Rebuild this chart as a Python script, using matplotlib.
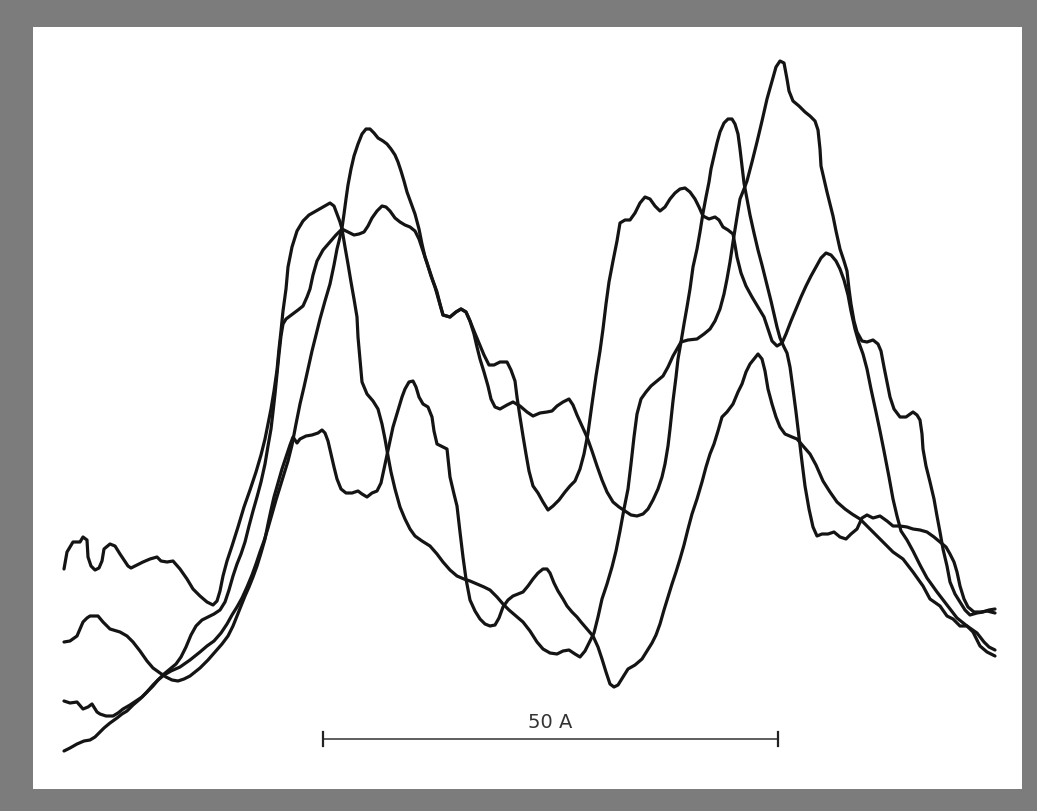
# Density traces (four overlaid scans) with 50 A scale bar

# Importing the necessary libraries.
import numpy as np
import matplotlib
matplotlib.use("Agg")
import matplotlib.pyplot as plt

# Trace readings: (position, deflection).
# Deflection is measured downward from the top of the paper, so the y axis is inverted.
trace_a = [
    (64, 570), (67, 553), (73, 543), (80, 543), (83, 538), (87, 541), (88, 558), (91, 567), (95, 571),
    (99, 569), (102, 562), (104, 550), (110, 545), (115, 547), (120, 555), (124, 561), (128, 567),
    (131, 569), (137, 566), (143, 563), (150, 560), (157, 558), (161, 562), (167, 563), (173, 562),
    (180, 570), (187, 580), (193, 590), (200, 597), (207, 603), (213, 606), (217, 602), (220, 592),
    (223, 577), (227, 562), (232, 547), (238, 528), (244, 508), (250, 491), (256, 473), (261, 456),
    (265, 440), (268, 425), (271, 410), (274, 392), (277, 371), (279, 350), (281, 332), (283, 312),
    (286, 290), (288, 268), (292, 248), (297, 232), (303, 222), (309, 216), (316, 212), (323, 208),
    (330, 204), (334, 207), (337, 215), (340, 223), (342, 230), (345, 248), (348, 265), (351, 283),
    (354, 300), (357, 318), (358, 338), (360, 360), (362, 383), (367, 395), (373, 402), (378, 410),
    (382, 425), (385, 440), (388, 457), (391, 473), (395, 490), (400, 508), (405, 520), (410, 530),
    (415, 537), (422, 542), (430, 547), (437, 555), (443, 563), (450, 571), (457, 577), (464, 580),
    (470, 582), (477, 585), (484, 588), (490, 591), (497, 598), (503, 605), (509, 611), (516, 617),
    (523, 623), (530, 632), (537, 643), (543, 650), (550, 654), (557, 655), (563, 652), (569, 651),
    (575, 655), (580, 658), (585, 652), (590, 642), (594, 634), (598, 618), (602, 600), (607, 585),
    (612, 568), (616, 552), (620, 532), (624, 510), (628, 490), (631, 465), (634, 438), (637, 415),
    (641, 400), (646, 393), (651, 387), (657, 382), (663, 377), (668, 368), (673, 357), (677, 350),
    (681, 343), (688, 341), (697, 340), (704, 335), (710, 330), (715, 322), (720, 310), (724, 295),
    (727, 280), (730, 263), (733, 243), (737, 218), (740, 200), (744, 190), (747, 182), (752, 163),
    (757, 143), (762, 122), (767, 100), (772, 82), (776, 68), (780, 62), (784, 64), (787, 80),
    (789, 92), (793, 102), (799, 107), (805, 113), (810, 117), (815, 122), (818, 131), (820, 150),
    (821, 167), (824, 180), (827, 193), (830, 205), (833, 217), (836, 232), (840, 250), (844, 262),
    (847, 272), (849, 290), (851, 305), (854, 322), (857, 333), (862, 342), (867, 343), (873, 341),
    (878, 345), (881, 352), (884, 368), (887, 383), (890, 398), (894, 410), (900, 418), (906, 418),
    (913, 413), (917, 416), (920, 421), (922, 435), (923, 450), (926, 467), (930, 483), (934, 500),
    (937, 517), (940, 533), (943, 550), (947, 567), (950, 583), (955, 595), (960, 603), (965, 611),
    (970, 616), (977, 614), (983, 613), (989, 611), (995, 610),
]

trace_b = [
    (64, 702), (70, 704), (77, 703), (83, 710), (88, 708), (92, 705), (97, 713), (100, 715), (106, 717),
    (113, 717), (118, 714), (123, 710), (130, 706), (136, 702), (142, 698), (148, 692), (153, 687),
    (158, 681), (164, 675), (170, 670), (176, 665), (181, 658), (186, 648), (191, 636), (196, 627),
    (202, 621), (208, 618), (214, 615), (220, 611), (225, 603), (229, 591), (233, 577), (237, 565),
    (241, 555), (245, 543), (249, 527), (253, 512), (257, 498), (261, 483), (265, 465), (268, 447),
    (271, 430), (273, 413), (275, 395), (277, 375), (279, 355), (281, 337), (283, 325), (286, 320),
    (290, 317), (294, 314), (298, 311), (303, 307), (307, 298), (310, 290), (313, 276), (317, 262),
    (323, 251), (330, 243), (336, 236), (342, 230), (348, 233), (354, 236), (359, 235), (364, 233),
    (368, 227), (372, 219), (377, 212), (382, 207), (386, 208), (390, 212), (395, 219), (400, 223),
    (405, 226), (410, 228), (415, 232), (419, 240), (423, 252), (427, 264), (431, 277), (435, 288),
    (439, 302), (443, 316), (450, 318), (456, 313), (461, 310), (466, 313), (470, 322), (474, 335),
    (477, 348), (480, 360), (484, 373), (488, 387), (491, 400), (495, 408), (500, 410), (507, 406),
    (513, 403), (520, 407), (527, 413), (533, 417), (540, 414), (547, 413), (552, 412), (557, 407),
    (563, 403), (569, 400), (573, 406), (577, 416), (582, 427), (587, 438), (592, 452), (597, 467),
    (602, 481), (607, 493), (613, 503), (619, 508), (625, 512), (631, 516), (637, 517), (643, 515),
    (648, 510), (653, 501), (658, 490), (662, 478), (665, 465), (668, 447), (670, 430), (673, 402),
    (676, 378), (678, 360), (681, 343), (684, 325), (687, 308), (690, 290), (693, 268), (697, 250),
    (700, 233), (703, 214), (706, 198), (709, 183), (711, 170), (714, 157), (717, 144), (720, 133),
    (724, 124), (728, 120), (732, 120), (735, 125), (738, 135), (740, 150), (742, 167), (744, 184),
    (747, 200), (750, 216), (754, 234), (758, 251), (762, 266), (765, 278), (768, 290), (771, 302),
    (774, 315), (777, 328), (780, 339), (784, 348), (787, 354), (790, 368), (793, 390), (796, 413),
    (799, 438), (802, 463), (805, 487), (809, 510), (813, 528), (817, 537), (822, 535), (828, 535),
    (834, 533), (840, 538), (846, 540), (851, 535), (857, 530), (862, 519), (867, 516), (873, 519),
    (880, 517), (887, 522), (893, 527), (900, 527), (907, 528), (913, 530), (920, 531), (927, 533),
    (934, 538), (940, 543), (946, 548), (950, 555), (954, 563), (957, 573), (960, 587), (964, 600),
    (968, 608), (974, 613), (981, 613), (987, 612), (995, 614),
]

trace_c = [
    (64, 752), (70, 749), (77, 745), (84, 742), (90, 741), (95, 738), (100, 733), (104, 729), (110, 724),
    (117, 719), (122, 715), (127, 712), (133, 706), (140, 700), (146, 694), (153, 686), (158, 681),
    (164, 676), (171, 672), (180, 668), (190, 661), (200, 653), (207, 647), (214, 642), (221, 634),
    (227, 625), (232, 616), (237, 608), (242, 599), (247, 588), (252, 576), (256, 565), (260, 553),
    (264, 542), (268, 529), (272, 515), (276, 501), (280, 488), (284, 475), (288, 462), (292, 446),
    (296, 425), (300, 405), (304, 388), (308, 370), (312, 352), (316, 336), (320, 320), (325, 302),
    (330, 285), (334, 266), (337, 250), (340, 238), (342, 229), (344, 215), (346, 200), (348, 186),
    (351, 170), (354, 157), (358, 145), (362, 135), (366, 130), (370, 130), (374, 134), (378, 139),
    (383, 142), (387, 145), (391, 150), (395, 156), (398, 163), (401, 172), (404, 182), (407, 193),
    (411, 204), (415, 215), (419, 230), (422, 245), (425, 258), (429, 270), (433, 282), (437, 293),
    (440, 305), (443, 316), (450, 318), (456, 313), (461, 310), (466, 313), (470, 322), (474, 332),
    (479, 344), (484, 356), (489, 366), (494, 366), (500, 363), (507, 363), (511, 371), (515, 382),
    (517, 398), (520, 418), (523, 437), (526, 455), (529, 472), (533, 487), (538, 494), (543, 503),
    (548, 511), (553, 507), (559, 501), (565, 493), (570, 487), (575, 482), (580, 470), (584, 455),
    (588, 434), (592, 405), (596, 377), (600, 352), (603, 330), (606, 305), (609, 283), (613, 262),
    (617, 242), (620, 224), (625, 221), (630, 221), (635, 214), (640, 204), (645, 198), (650, 200),
    (655, 207), (660, 212), (665, 208), (670, 200), (675, 194), (680, 190), (685, 189), (690, 193),
    (695, 200), (699, 208), (703, 217), (709, 220), (715, 218), (719, 221), (723, 228), (728, 231),
    (733, 235), (735, 246), (737, 258), (741, 274), (746, 287), (752, 298), (758, 308), (764, 318),
    (768, 330), (772, 342), (777, 347), (782, 344), (786, 335), (791, 322), (796, 310), (801, 298),
    (806, 287), (811, 277), (816, 268), (821, 259), (826, 254), (831, 256), (836, 262), (840, 270),
    (844, 281), (848, 296), (851, 312), (855, 330), (859, 344), (863, 355), (867, 370), (871, 390),
    (876, 413), (880, 432), (884, 452), (889, 478), (893, 500), (897, 517), (901, 532), (907, 541),
    (913, 552), (920, 566), (927, 579), (937, 593), (947, 606), (957, 619), (967, 627), (977, 634),
    (984, 643), (989, 648), (995, 651),
]

trace_d = [
    (64, 643), (70, 642), (77, 637), (80, 630), (83, 623), (87, 619), (90, 617), (98, 617), (103, 623),
    (110, 630), (120, 633), (127, 637), (133, 643), (140, 652), (147, 662), (153, 669), (160, 674),
    (166, 678), (172, 681), (178, 682), (184, 680), (190, 677), (200, 669), (208, 661), (215, 653),
    (222, 645), (228, 637), (233, 627), (237, 617), (241, 607), (245, 597), (249, 588), (253, 578),
    (257, 567), (261, 554), (265, 540), (268, 525), (271, 511), (274, 498), (278, 484), (282, 470),
    (286, 458), (290, 446), (293, 438), (297, 444), (300, 440), (306, 437), (312, 436), (318, 434),
    (322, 431), (325, 434), (328, 442), (331, 455), (334, 468), (337, 480), (341, 490), (346, 494),
    (352, 494), (358, 492), (362, 495), (367, 498), (372, 494), (377, 492), (381, 484), (384, 470),
    (387, 456), (390, 442), (393, 428), (396, 418), (399, 408), (402, 398), (405, 390), (409, 383),
    (413, 382), (416, 388), (419, 398), (423, 405), (428, 408), (432, 418), (434, 432), (437, 445),
    (443, 448), (447, 450), (450, 478), (454, 495), (457, 507), (460, 533), (463, 558), (466, 580),
    (470, 601), (475, 612), (480, 620), (485, 625), (490, 627), (495, 626), (499, 619), (503, 608),
    (508, 601), (513, 597), (518, 595), (523, 593), (528, 587), (533, 580), (538, 574), (543, 570),
    (547, 570), (550, 574), (554, 584), (558, 592), (563, 600), (567, 607), (572, 613), (577, 618),
    (581, 623), (587, 630), (593, 637), (598, 648), (602, 660), (606, 673), (610, 685), (614, 688),
    (618, 686), (623, 678), (628, 670), (635, 666), (642, 660), (647, 652), (652, 644), (656, 636),
    (660, 625), (664, 611), (668, 598), (672, 585), (676, 573), (680, 560), (684, 546), (688, 530),
    (692, 515), (697, 500), (702, 483), (706, 468), (710, 455), (714, 445), (718, 432), (722, 418),
    (727, 413), (733, 405), (738, 393), (742, 385), (746, 373), (750, 365), (754, 360), (758, 355),
    (762, 360), (765, 372), (768, 390), (772, 405), (776, 418), (780, 428), (785, 435), (792, 438),
    (797, 440), (803, 447), (810, 455), (816, 466), (823, 482), (830, 493), (837, 503), (845, 510),
    (852, 515), (860, 520), (867, 527), (873, 533), (880, 540), (887, 547), (893, 553), (903, 560),
    (913, 573), (923, 587), (930, 600), (940, 607), (947, 617), (953, 620), (960, 627), (967, 627),
    (973, 633), (980, 647), (987, 653), (995, 657),
]

traces = [trace_a, trace_b, trace_c, trace_d]

# Scale bar (50 A) in the same position units
scale_bar_x = [323, 778]
scale_bar_y = 740
scale_bar_label = "50 A"

# Creating the figure: grey mount with white paper on it
fig = plt.figure(figsize=(10.37, 8.12), dpi=100, facecolor="#7c7c7c")
ax = fig.add_axes([33 / 1037, 22 / 812, 989 / 1037, 762 / 812])
ax.set_facecolor("white")

# Drawing the traces
for tr in traces:
    xs, ys = np.array(tr).T
    ax.plot(xs, ys, color="#141414", lw=2.3, solid_joinstyle="round", solid_capstyle="round")

# Drawing the scale bar with end ticks
ax.plot(scale_bar_x, [scale_bar_y, scale_bar_y], color="#333333", lw=1.1)
for bx in scale_bar_x:
    ax.plot([bx, bx], [scale_bar_y - 7, scale_bar_y + 7], color="#222222", lw=1.6)
ax.text(np.mean(scale_bar_x), scale_bar_y - 17, scale_bar_label, ha="center", va="center",
        fontsize=14, color="#333333", family="DejaVu Sans")

# Axes limits (y inverted since deflection is read downward) and no ticks/frame
ax.set_xlim(33, 1022)
ax.set_ylim(790, 28)
ax.set_xticks([])
ax.set_yticks([])
for sp in ax.spines.values():
    sp.set_visible(False)

fig.savefig("out.png", dpi=100, facecolor=fig.get_facecolor())
